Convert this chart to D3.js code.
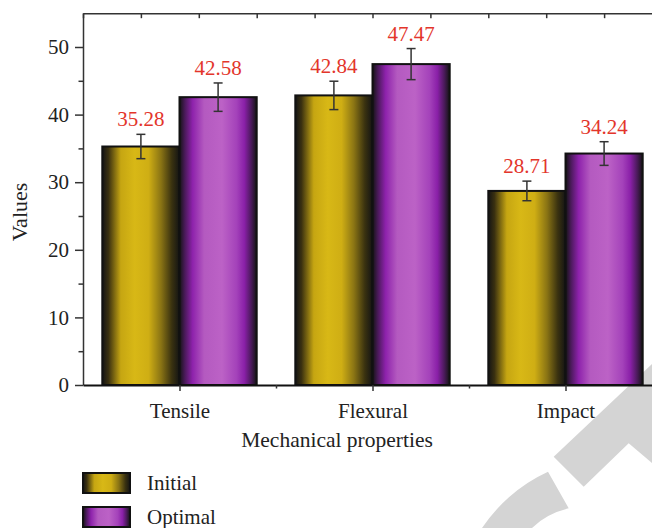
<!DOCTYPE html>
<html>
<head>
<meta charset="utf-8">
<script src="https://cdn.jsdelivr.net/npm/d3@7"></script>
<style>
  body { margin: 0; background: #fff; }
  svg { display: block; font-family: "Liberation Serif", "Times New Roman", serif; }
</style>
</head>
<body>
<svg width="652" height="528"></svg>
<script>
let categories = ["Tensile", "Flexural", "Impact"];
let initialValues = [35.28, 42.84, 28.71];
let optimalValues = [42.58, 47.47, 34.24];
let initialErrors = [1.8, 2.1, 1.45];
let optimalErrors = [2.1, 2.3, 1.75];
let yTicks = [0, 10, 20, 30, 40, 50];
let seriesNames = ["Initial", "Optimal"];

let svg = d3.select("svg");

let xScale = d3.scaleLinear().domain([0.5, 3.5]).range([83, 662]);
let yScale = d3.scaleLinear().domain([0, 55]).range([385, 13.2]);
let barW = 0.4;

let defs = svg.append("defs");

let yellowGrad = defs.append("linearGradient").attr("id", "gYellow");
[["0%", "#141414"], ["8%", "#3a3010"], ["24%", "#c6a612"], ["42%", "#d8b816"],
 ["60%", "#cfae14"], ["76%", "#8a7414"], ["90%", "#3a3210"], ["100%", "#141414"]]
  .forEach(s => yellowGrad.append("stop").attr("offset", s[0]).attr("stop-color", s[1]));

let purpleGrad = defs.append("linearGradient").attr("id", "gPurple");
[["0%", "#141414"], ["7%", "#4a1a5a"], ["17%", "#8e22ac"], ["32%", "#b45ac0"],
 ["55%", "#bc62c6"], ["74%", "#a442ba"], ["84%", "#8a20a8"], ["93%", "#4a1a5a"], ["100%", "#141414"]]
  .forEach(s => purpleGrad.append("stop").attr("offset", s[0]).attr("stop-color", s[1]));

let fills = ["url(#gYellow)", "url(#gPurple)"];

// watermark shapes, behind everything
svg.append("path")
  .attr("d", "M553.7,456.7 L652,364 L652,463 L628.7,443.3 L583.7,486.7 Z")
  .attr("fill", "#d4d4d4");
svg.append("path")
  .attr("d", "M482,528 Q508,490 548,471.7 L568.7,508.3 Q546,514 532,528 Z")
  .attr("fill", "#d4d4d4");

// bars
let rows = [];
categories.forEach((c, i) => {
  rows.push({ cat: i + 1, s: 0, v: initialValues[i], e: initialErrors[i] });
  rows.push({ cat: i + 1, s: 1, v: optimalValues[i], e: optimalErrors[i] });
});

svg.selectAll("rect.bar")
  .data(rows)
  .enter()
  .append("rect")
    .attr("class", "bar")
    .attr("x", d => xScale(d.cat - barW + d.s * barW))
    .attr("y", d => yScale(d.v))
    .attr("width", d => xScale(barW) - xScale(0))
    .attr("height", d => yScale(0) - yScale(d.v))
    .attr("fill", d => fills[d.s])
    .attr("stroke", "#111")
    .attr("stroke-width", 2);

// error bars
let errG = svg.append("g").attr("stroke", "#333").attr("stroke-width", 1.5);
rows.forEach(d => {
  let cx = xScale(d.cat - barW / 2 + d.s * barW);
  errG.append("line").attr("x1", cx).attr("x2", cx).attr("y1", yScale(d.v + d.e)).attr("y2", yScale(d.v - d.e));
  errG.append("line").attr("x1", cx - 4.5).attr("x2", cx + 4.5).attr("y1", yScale(d.v + d.e)).attr("y2", yScale(d.v + d.e));
  errG.append("line").attr("x1", cx - 4.5).attr("x2", cx + 4.5).attr("y1", yScale(d.v - d.e)).attr("y2", yScale(d.v - d.e));
});

// value labels
svg.selectAll("text.val")
  .data(rows)
  .enter()
  .append("text")
    .attr("class", "val")
    .attr("x", d => xScale(d.cat - barW / 2 + d.s * barW))
    .attr("y", d => yScale(d.v + d.e) - 8)
    .attr("text-anchor", "middle")
    .attr("fill", "#e3352b")
    .style("font-size", "21px")
    .text(d => d.v.toFixed(2));

// y axis
let yAxis = d3.axisLeft(yScale).tickValues(yTicks).tickSize(8).tickSizeOuter(0).tickPadding(6);
let yG = svg.append("g").attr("transform", "translate(83,0)").call(yAxis);
yG.select(".domain").attr("stroke", "#333").attr("stroke-width", 1.5);
yG.selectAll(".tick line").attr("stroke", "#333").attr("stroke-width", 1.5);
yG.selectAll(".tick text").style("font-size", "21px").attr("fill", "#222").attr("font-family", "Liberation Serif");
let yMinor = d3.axisLeft(yScale).tickValues([5, 15, 25, 35, 45]).tickSize(4.5).tickFormat("").tickSizeOuter(0);
let yMinorG = svg.append("g").attr("transform", "translate(83,0)").call(yMinor);
yMinorG.select(".domain").remove();
yMinorG.selectAll(".tick line").attr("stroke", "#333").attr("stroke-width", 1.5);

// x axis
let xAxis = d3.axisBottom(xScale).tickValues([1, 2, 3]).tickSize(6).tickSizeOuter(0).tickPadding(12)
  .tickFormat(d => categories[d - 1]);
let xG = svg.append("g").attr("transform", "translate(0,385)").call(xAxis);
xG.select(".domain").attr("stroke", "#111").attr("stroke-width", 2);
xG.selectAll(".tick line").attr("stroke", "#333").attr("stroke-width", 1.5);
xG.selectAll(".tick text").style("font-size", "21px").attr("fill", "#222").attr("font-family", "Liberation Serif");
let xMinor = d3.axisBottom(xScale).tickValues([1.5, 2.5]).tickSize(3.5).tickFormat("").tickSizeOuter(0);
let xMinorG = svg.append("g").attr("transform", "translate(0,385)").call(xMinor);
xMinorG.select(".domain").remove();
xMinorG.selectAll(".tick line").attr("stroke", "#333").attr("stroke-width", 1.5);

// top axis
let topAxis = d3.axisTop(xScale).tickValues(d3.range(0.5, 3.5, 0.3)).tickSize(-5).tickFormat("").tickSizeOuter(0);
let topG = svg.append("g").attr("transform", "translate(0," + yScale(55) + ")").call(topAxis);
topG.select(".domain").attr("stroke", "#333").attr("stroke-width", 1.5);
topG.selectAll(".tick line").attr("stroke", "#333").attr("stroke-width", 1.5);

// axis titles
svg.append("text")
  .attr("x", 337)
  .attr("y", 447)
  .attr("text-anchor", "middle")
  .attr("fill", "#222")
  .style("font-size", "21.5px")
  .text("Mechanical properties");

svg.append("text")
  .attr("transform", "rotate(-90)")
  .attr("x", -212)
  .attr("y", 27)
  .attr("text-anchor", "middle")
  .attr("fill", "#222")
  .style("font-size", "22px")
  .text("Values");

// legend
let legend = svg.append("g");
seriesNames.forEach((n, i) => {
  legend.append("rect")
    .attr("x", 83).attr("y", 473 + i * 34)
    .attr("width", 47).attr("height", 20)
    .attr("fill", fills[i])
    .attr("stroke", "#111").attr("stroke-width", 2);
  legend.append("text")
    .attr("x", 147).attr("y", 490 + i * 34)
    .attr("fill", "#222")
    .style("font-size", "21px")
    .text(n);
});
</script>
</body>
</html>
